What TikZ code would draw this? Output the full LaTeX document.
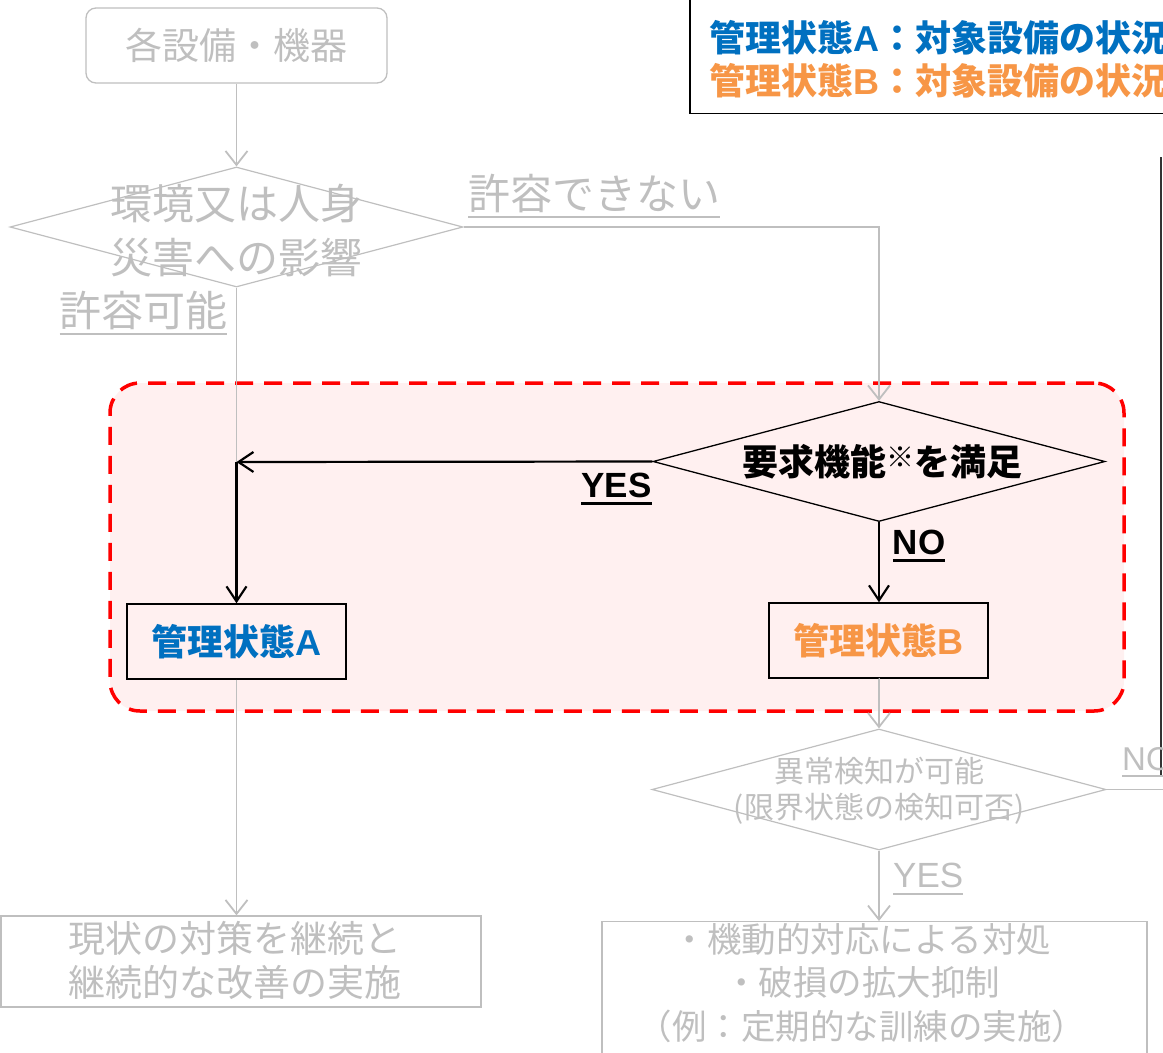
\documentclass[tikz,border=0pt]{standalone}
\usepackage{fontspec}
\newfontfamily\jpf{Noto Sans CJK JP}
\newfontfamily\latf{Liberation Sans}
\usetikzlibrary{shapes.geometric,arrows.meta}
\definecolor{lg}{HTML}{BFBFBF}
\definecolor{blueA}{HTML}{0070C0}
\definecolor{orgB}{HTML}{F79646}
\definecolor{pinkbg}{HTML}{FFF0F0}
\definecolor{redz}{HTML}{FF0000}
\newcommand\myul[2][2pt]{\setbox0=\hbox{#2}\rlap{\raisebox{-0.2em}{\rule{\wd0}{#1}}}\box0}
\tikzset{
  graybox/.style={draw=lg, line width=1.3pt, inner sep=0pt, text=lg},
  gdia/.style={diamond, draw=lg, line width=1.2pt, inner sep=0pt},
  bdia/.style={diamond, draw=black, line width=1.3pt, inner sep=0pt},
  gline/.style={draw=lg, line width=1.8pt},
  garrow/.style={draw=lg, line width=1.8pt, -{Straight Barb[length=14pt,width=22pt]}},
  barrow/.style={draw=black, line width=2.2pt, -{Straight Barb[length=15pt,width=20pt]}},
  glabel/.style={text=lg, inner sep=0pt},
  statebox/.style={draw=black, line width=1.3pt, minimum width=219pt, minimum height=75pt, inner sep=0pt, font=\jpf\bfseries\fontsize{36}{40}\selectfont},
}
\begin{document}
\begin{tikzpicture}[x=1pt,y=-1pt]
\useasboundingbox (0,0) rectangle (1163,1053);

% highlighted zone
\node[draw=redz, fill=pinkbg, line width=3.5pt, dash pattern=on 18pt off 11pt, rounded corners=30pt, minimum width=1014pt, minimum height=328pt, inner sep=0pt] (zone) at (617,547) {};

% legend
\node[draw=black, line width=1.5pt, fill=white, minimum width=540pt, minimum height=150pt, anchor=south west, inner sep=0pt] (leg) at (689,114) {};
\node[anchor=west, inner sep=0pt, text=blueA, font=\jpf\bfseries\fontsize{36}{40}\selectfont] (legA) at (709,38) {管理状態{\latf\bfseries A}：対象設備の状況};
\node[anchor=west, inner sep=0pt, text=orgB, font=\jpf\bfseries\fontsize{36}{40}\selectfont] (legB) at (709,81) {管理状態{\latf\bfseries B}：対象設備の状況};

% right edge line
\coordinate (rt) at (1161,157);
\coordinate (rb) at (1161,775);
\draw[line width=2.5pt, black!80] (rt) -- (rb);

% source box
\node[graybox, rounded corners=10pt, minimum width=301pt, minimum height=75pt, font=\jpf\fontsize{37}{44}\selectfont] (src) at (236.5,45.5) {各設備・機器};

% diamond 1
\node[gdia, minimum width=453pt, minimum height=120pt] (d1) at (236.5,227) {};
\node[glabel, align=center, font=\jpf\fontsize{42}{54}\selectfont] (d1t) at (236.5,231) {環境又は人身\\災害への影響};
\node[glabel, anchor=west, font=\jpf\fontsize{42}{50}\selectfont] (ng1) at (468,196) {\myul{許容できない}};
\node[glabel, font=\jpf\fontsize{42}{50}\selectfont] (ok1) at (143.5,313) {\myul{許容可能}};

% diamond 2
\node[bdia, minimum width=452pt, minimum height=120pt] (d2) at (879,461.5) {};
\node[inner sep=0pt, font=\jpf\bfseries\fontsize{36}{42}\selectfont] (d2t) at (882,462) {要求機能{\fontsize{28}{30}\selectfont\raisebox{0.3em}{※}}を満足};

% state boxes
\node[statebox, text=blueA] (A) at (236.5,641.5) {管理状態{\latf\bfseries A}};
\node[statebox, text=orgB] (B) at (878.5,640.5) {管理状態{\latf\bfseries B}};

% diamond 3
\node[gdia, minimum width=454pt, minimum height=121pt] (d3) at (879,789.5) {};
\node[glabel, align=center, font=\jpf\fontsize{30}{36}\selectfont] (d3t) at (879,791) {異常検知が可能\\(限界状態の検知可否)};

% bottom boxes
\node[graybox, minimum width=480pt, minimum height=91pt] (bl) at (241,961.5) {};
\node[glabel, align=center, font=\jpf\fontsize{37}{44}\selectfont] (blt) at (235,960) {現状の対策を継続と\\継続的な改善の実施};
\node[graybox, minimum width=545pt, minimum height=150pt, anchor=north] (br) at (874.5,921) {};
\node[glabel, align=center, anchor=north, font=\jpf\fontsize{34.5}{43.5}\selectfont] (brt) at (862,923) {・機動的対応による対処\\・破損の拡大抑制\\（例：定期的な訓練の実施）};

% labels
\node[inner sep=0pt, font=\latf\bfseries\fontsize{35}{40}\selectfont] (yes1) at (616.5,489) {\myul[3pt]{YES}};
\node[inner sep=0pt, font=\latf\bfseries\fontsize{35}{40}\selectfont] (no1) at (919,546) {\myul[3pt]{NO}};
\node[glabel, anchor=west, font=\latf\fontsize{35}{40}\selectfont] (yes2) at (893,879) {\myul{YES}};
\node[glabel, anchor=west, font=\latf\fontsize{33}{40}\selectfont] (no2) at (1122,762) {\myul{NO}};

% connectors
\coordinate (c1) at (879,227);
\coordinate (j) at (236.5,462);
\coordinate (offr) at (1190,789.5);
\draw[garrow] (src.south) -- (d1.north);
\draw[garrow] (d1.east) -- (c1) -- (d2.north);
\draw[gline, line width=1.4pt] (d1.south) -- (j);
\draw[barrow] (d2.west) -- (j);
\draw[barrow] (j) -- (A.north);
\draw[barrow] (d2.south) -- (d2.south |- B.north);
\draw[garrow] (A.south) -- (A.south |- bl.north);
\draw[garrow] (B.south) -- (B.south -| d3.north) -- (d3.north);
\draw[gline, line width=1.4pt] (d3.east) -- (offr);
\draw[garrow] (d3.south) -- (d3.south |- br.north);
\end{tikzpicture}
\end{document}
